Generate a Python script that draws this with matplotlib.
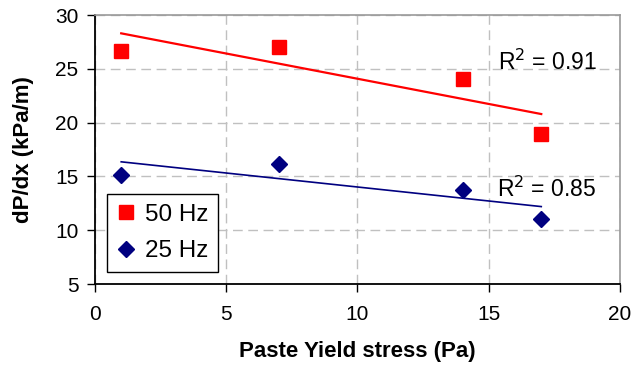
import matplotlib
matplotlib.use("Agg")
import matplotlib.pyplot as plt

plt.rcParams['font.family'] = ['Liberation Sans', 'DejaVu Sans']

# measured points
yield_stress = [1, 7, 14, 17]
dpdx_50hz = [26.7, 27.05, 24.07, 18.9]
dpdx_25hz = [15.15, 16.2, 13.75, 11.03]

# linear trend lines (end points)
trend_x = [1, 17]
trend_50hz = [28.3, 20.8]
trend_25hz = [16.36, 12.2]

r2_50hz = 0.91
r2_25hz = 0.85

fig = plt.figure(figsize=(6.33, 3.67), dpi=100)
ax = fig.add_axes([0.150, 0.226, 0.8295, 0.733])

ax.grid(True, color="#c0c0c0", linestyle=(0, (7, 4)), linewidth=1.0)
ax.set_axisbelow(True)

ax.plot(trend_x, trend_50hz, color="#ff0000", linewidth=1.6, zorder=2)
ax.plot(trend_x, trend_25hz, color="#000080", linewidth=1.2, zorder=2)

ax.plot(yield_stress, dpdx_50hz, linestyle="none", marker="s", markersize=10,
        color="#ff0000", label="50 Hz", zorder=3)
ax.plot(yield_stress, dpdx_25hz, linestyle="none", marker="D", markersize=7.8,
        color="#000080", label="25 Hz", zorder=3)

ax.text(15.35, 25.6, "R$^2$ = %.2f" % r2_50hz, fontsize=16.5, va="center")
ax.text(15.3, 13.85, "R$^2$ = %.2f" % r2_25hz, fontsize=16.5, va="center")

ax.set_xlim(0, 20)
ax.set_ylim(5, 30)
ax.set_xticks([0, 5, 10, 15, 20])
ax.set_yticks([5, 10, 15, 20, 25, 30])
ax.tick_params(labelsize=15, length=6, width=1, color="black", direction="out")
ax.tick_params(axis="x", pad=9)
ax.tick_params(axis="y", pad=6)

for side in ["left", "bottom"]:
    ax.spines[side].set_color("black")
    ax.spines[side].set_linewidth(1.3)
for side in ["top", "right"]:
    ax.spines[side].set_color("#999999")
    ax.spines[side].set_linewidth(1.2)

ax.set_xlabel("Paste Yield stress (Pa)", fontsize=16, fontweight="bold", labelpad=12)
ax.set_ylabel("dP/dx (kPa/m)", fontsize=16, fontweight="bold", labelpad=15)

leg = ax.legend(loc="lower left", bbox_to_anchor=(0.023, 0.045), borderaxespad=0,
                fontsize=17.5, fancybox=False, framealpha=1, edgecolor="black",
                handlelength=0.8, handletextpad=0.35, borderpad=0.4,
                labelspacing=0.6)
leg.get_frame().set_linewidth(1.0)

fig.savefig("out.png", dpi=100)
